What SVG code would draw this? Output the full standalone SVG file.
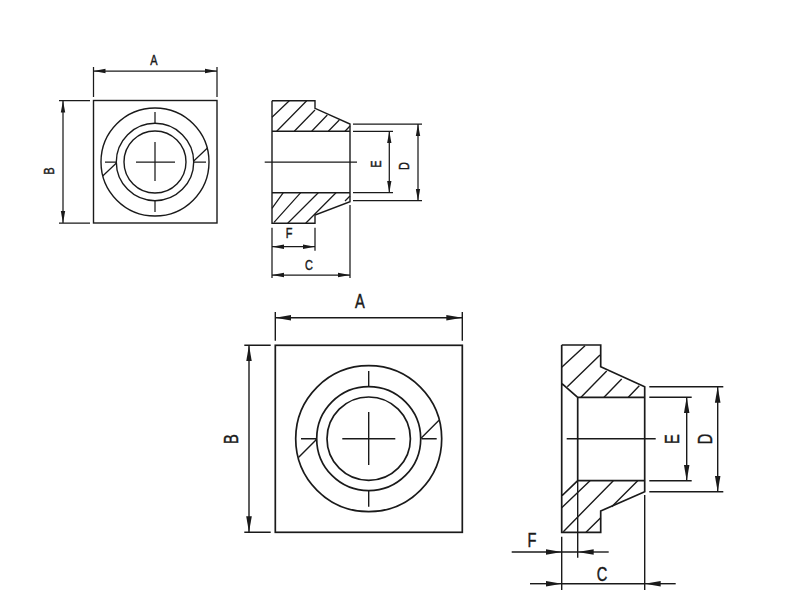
<svg xmlns="http://www.w3.org/2000/svg" width="800" height="600" viewBox="0 0 800 600">
<style>
.l{fill:none;stroke:#1a1a1a;stroke-width:1.4}
.b{fill:none;stroke:#1a1a1a;stroke-width:1.7}
.d{fill:none;stroke:#1a1a1a;stroke-width:1.25}
.t{font-family:"Liberation Sans",Arial,sans-serif;fill:#1a1a1a;stroke:#1a1a1a;stroke-width:.45;text-anchor:middle;dominant-baseline:central}
.s{font-size:14px}
.m{font-size:19.5px}
</style>
<defs>
<marker id="as" markerUnits="userSpaceOnUse" markerWidth="13" markerHeight="7" refX="12" refY="3.5" orient="auto-start-reverse"><path d="M0 1.3L12 3.5L0 5.7Z" fill="#1a1a1a"/></marker>
<marker id="am" markerUnits="userSpaceOnUse" markerWidth="17" markerHeight="8" refX="16" refY="4" orient="auto-start-reverse"><path d="M0 1.2L16 4L0 6.8Z" fill="#1a1a1a"/></marker>
</defs>
<g id="small-front">
<rect class="l" x="93.5" y="100.5" width="123.5" height="122.5"/>
<circle class="l" cx="155" cy="162" r="54"/>
<circle class="l" cx="155" cy="162" r="38.7"/>
<circle class="l" cx="155" cy="162" r="31"/>
<path class="d" d="M136 162H175M155 142V181M155 112V124M155 200V212M105 162H117M194 162H206M194 160.7L207.7 147.7M116.7 162.7L102.7 176"/>
</g>
<g id="small-section">
<path class="l" d="M272 100.7H315V108.3L350 124V192.7M350 192.7V201.7L315 215V223.3H272V100.7M272 131.3H350M272 192.7H350"/>
<path class="d" d="M264.7 162H357M272 117.3L289.3 100.7M276.7 131.3L306.7 100.7M294.3 131.3L315 110M311.7 131.3L327.3 115M328.3 131.3L339.3 120M345 131.3L350 126M272 208.3L283.3 192.7M274 222.3L300.7 192.7M287.7 223.3L318.3 192.7M305.7 223.3L336 192.7M345 201L350 196"/>
</g>
<g id="large-front">
<rect class="b" x="275.3" y="345.3" width="187" height="187"/>
<circle class="b" cx="368.7" cy="438.7" r="73"/>
<circle class="b" cx="368.7" cy="438.7" r="52"/>
<circle class="b" cx="368.7" cy="438.7" r="41.7"/>
<path class="l" d="M342.3 438.7H395.3M368.7 412V465M368.7 371V386.3M368.7 491V506.7M301 438.7H316.3M421.7 438.7H436.7M421 438.3L439 420.3M316.7 439.3L298.7 457.3"/>
</g>
<g id="large-section">
<path class="b" d="M561.7 345H600.7V366.7L644.7 386.7V397.3M644.7 397.3V491.7L600.7 511V532.3H561.7V345M577.7 397.3V480.7M561.7 383.3L577.7 397.3H644.7M577.7 480.7H644.7M577.7 480.7L561.7 496"/>
<path class="l" d="M566.7 438.7H655.7M561.7 367.3L585 345.7M567.3 386.7L600 355M581 397.3L606.7 371M604 397.3L621.7 379M628.3 397.3L639.3 385.7M561.7 507.7L590 480.7M563.3 531.7L613.3 480.7M586 532.3L600.7 517.7M611.7 506.7L637.7 480.7"/>
</g>
<g id="connectors">
<path class="d" d="M93.5 67V97M217 67V97M59 100.5H90M59 223H90M353 124H422M353 200.7H422M353 131.3H393M353 192.7H393M272 227.7V278M315 227.7V250.7M350 205V278"/>
<line class="d" x1="93.5" y1="71" x2="217" y2="71" marker-start="url(#as)" marker-end="url(#as)"/>
<line class="d" x1="63" y1="100.5" x2="63" y2="223" marker-start="url(#as)" marker-end="url(#as)"/>
<line class="d" x1="418" y1="124" x2="418" y2="200.7" marker-start="url(#as)" marker-end="url(#as)"/>
<line class="d" x1="389.3" y1="131.3" x2="389.3" y2="192.7" marker-start="url(#as)" marker-end="url(#as)"/>
<line class="d" x1="272" y1="246.7" x2="315" y2="246.7" marker-start="url(#as)" marker-end="url(#as)"/>
<line class="d" x1="272" y1="275" x2="350" y2="275" marker-start="url(#as)" marker-end="url(#as)"/>
<path class="l" d="M275.3 312V340.7M462.3 312V340.7M244.3 345.3H270.7M244.3 532.3H270.7M649.3 386.7H723.3M649.3 491.7H723.3M649.3 397.3H691.7M649.3 480.7H691.7M561.7 536.7V590M644.7 495V590M577.7 480.7V557.7M561.7 552H577.7M561.7 583.7H644.7"/>
<line class="l" x1="275.3" y1="317.7" x2="462.3" y2="317.7" marker-start="url(#am)" marker-end="url(#am)"/>
<line class="l" x1="249" y1="345.3" x2="249" y2="532.3" marker-start="url(#am)" marker-end="url(#am)"/>
<line class="l" x1="717.7" y1="386.7" x2="717.7" y2="491.7" marker-start="url(#am)" marker-end="url(#am)"/>
<line class="l" x1="686.7" y1="397.3" x2="686.7" y2="480.7" marker-start="url(#am)" marker-end="url(#am)"/>
<line class="l" x1="511.7" y1="552" x2="561.7" y2="552" marker-end="url(#am)"/>
<line class="l" x1="608.7" y1="552" x2="577.7" y2="552" marker-end="url(#am)"/>
<line class="l" x1="530" y1="583.7" x2="561.7" y2="583.7" marker-end="url(#am)"/>
<line class="l" x1="675.7" y1="583.7" x2="644.7" y2="583.7" marker-end="url(#am)"/>
</g>
<g id="labels">
<text class="t s" transform="translate(154 61) scale(.78 1)">A</text>
<text class="t s" transform="translate(50 171) rotate(-90) scale(.78 1)">B</text>
<text class="t s" transform="translate(289 234) scale(.78 1)">F</text>
<text class="t s" transform="translate(309 266) scale(.78 1)">C</text>
<text class="t s" transform="translate(376.7 164) rotate(-90) scale(.78 1)">E</text>
<text class="t s" transform="translate(405 166) rotate(-90) scale(.78 1)">D</text>
<text class="t m" transform="translate(360 301) scale(.75 1)">A</text>
<text class="t m" transform="translate(231.7 439) rotate(-90) scale(.75 1)">B</text>
<text class="t m" transform="translate(532 540) scale(.75 1)">F</text>
<text class="t m" transform="translate(602 574) scale(.75 1)">C</text>
<text class="t m" transform="translate(672.3 439) rotate(-90) scale(.75 1)">E</text>
<text class="t m" transform="translate(705 439) rotate(-90) scale(.75 1)">D</text>
</g>
</svg>
